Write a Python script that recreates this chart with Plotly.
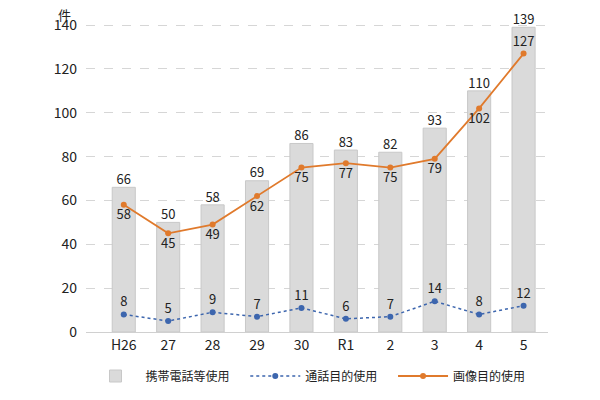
import plotly.graph_objects as go

# data
years = ["H26", "27", "28", "29", "30", "R1", "2", "3", "4", "5"]
keitai = [66, 50, 58, 69, 86, 83, 82, 93, 110, 139]
tsuwa = [8, 5, 9, 7, 11, 6, 7, 14, 8, 12]
gazo = [58, 45, 49, 62, 75, 77, 75, 79, 102, 127]

font_jp = "Noto Sans CJK JP"
orange = "#E07A2C"
blue = "#3D66AE"
pad = "\u00a0" * 4  # a bit of space between legend entries

fig = go.Figure()

fig.add_trace(go.Bar(
    x=years, y=keitai, name="携帯電話等使用" + pad,
    marker=dict(color="#DADADA", line=dict(color="#C8C8C8", width=1)),
    width=0.52,
))
# bar value labels, sitting right on top of the bars
fig.add_trace(go.Scatter(
    x=years, y=keitai, mode="text", showlegend=False, hoverinfo="skip",
    text=keitai, textposition="top center",
    textfont=dict(size=13, color="#222"),
    cliponaxis=False,
))

fig.add_trace(go.Scatter(
    x=years, y=tsuwa, name="通話目的使用" + pad,
    mode="lines+markers+text",
    line=dict(color=blue, width=1.5, dash="dot"),
    marker=dict(size=6, color=blue),
    text=tsuwa, textposition="top center",
    textfont=dict(size=13, color="#222"),
    cliponaxis=False,
))

gazo_pos = ["bottom center"] * (len(gazo) - 1) + ["top center"]
fig.add_trace(go.Scatter(
    x=years, y=gazo, name="画像目的使用",
    mode="lines+markers+text",
    line=dict(color=orange, width=1.8),
    marker=dict(size=6, color=orange),
    text=gazo, textposition=gazo_pos,
    textfont=dict(size=13, color="#222"),
    cliponaxis=False,
))

fig.update_layout(
    width=600, height=400,
    margin=dict(l=78, r=60, t=16, b=76, autoexpand=False),
    plot_bgcolor="white", paper_bgcolor="white",
    font=dict(family=font_jp, size=13, color="#222"),
    showlegend=True,
    legend=dict(orientation="h", x=0.5, xref="container", xanchor="center",
                y=0.08, yref="container", yanchor="middle",
                font=dict(size=12), itemwidth=50, tracegroupgap=0),
    xaxis=dict(range=[-0.85, 9.55], showgrid=False, ticks="", automargin=False,
               showline=True, linecolor="#D0D0D0", linewidth=1,
               tickfont=dict(size=14)),
    yaxis=dict(range=[0, 140.5], dtick=20, showgrid=True, gridcolor="#D6D6D6",
               griddash="dash", gridwidth=1, zeroline=False, ticks="", automargin=False,
               tickfont=dict(size=14), ticklabelstandoff=8),
    annotations=[dict(text="件", x=0, xref="paper", xanchor="center", xshift=-22,
                      y=1, yref="paper", yanchor="middle", yshift=10,
                      showarrow=False, font=dict(size=13))],
)

fig.write_html("out.html")
